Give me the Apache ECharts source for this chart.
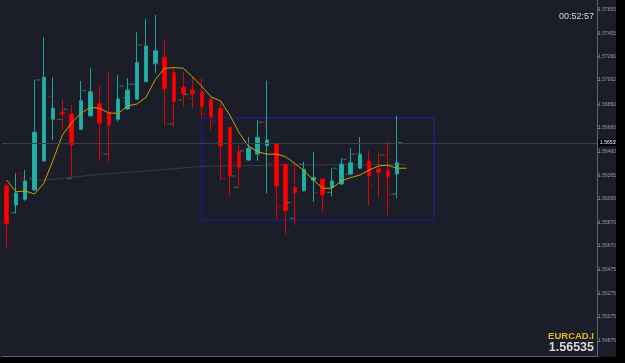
<!DOCTYPE html>
<html>
<head>
<meta charset="utf-8">
<script src="https://cdn.jsdelivr.net/npm/echarts@6.0.0/dist/echarts.min.js"></script>
<style>
  html, body { margin: 0; padding: 0; background: #000; }
  #chart { width: 625px; height: 363px; }
</style>
</head>
<body>
<div id="chart"></div>
<script>
// EURCAD.I candles, oldest first
const opens  = [1.56177, 1.56015, 1.56063, 1.56141, 1.56384, 1.56733, 1.56794, 1.56778, 1.56649, 1.56763, 1.56864,
                1.56783, 1.56733, 1.56820, 1.56901, 1.57048, 1.57199, 1.57253, 1.57124, 1.57001, 1.56979, 1.56962,
                1.56901, 1.56825, 1.56666, 1.56462, 1.56392, 1.56442, 1.56512, 1.56532, 1.56356, 1.56160, 1.56135,
                1.56224, 1.56233, 1.56163, 1.56191, 1.56275, 1.56323, 1.56384, 1.56317, 1.56302, 1.56275];
const highs  = [1.56191, 1.56281, 1.56308, 1.57063, 1.57420, 1.57085, 1.56895, 1.56853, 1.57054, 1.57161, 1.57015,
                1.57127, 1.57102, 1.57079, 1.57462, 1.57574, 1.57607, 1.57404, 1.57172, 1.57132, 1.57096, 1.57077,
                1.56918, 1.56867, 1.56666, 1.56518, 1.56582, 1.56727, 1.57057, 1.56535, 1.56356, 1.56364, 1.56378,
                1.56462, 1.56233, 1.56323, 1.56406, 1.56490, 1.56582, 1.56468, 1.56468, 1.56545, 1.56761];
const lows   = [1.55655, 1.55945, 1.56051, 1.56135, 1.56378, 1.56560, 1.56644, 1.56233, 1.56644, 1.56755, 1.56384,
                1.56378, 1.56713, 1.56811, 1.56895, 1.57046, 1.57119, 1.56677, 1.56671, 1.56839, 1.56830, 1.56742,
                1.56644, 1.56224, 1.56085, 1.56163, 1.56386, 1.56386, 1.56113, 1.55895, 1.55772, 1.55847, 1.56126,
                1.56043, 1.55959, 1.56085, 1.56183, 1.56266, 1.56317, 1.56007, 1.56079, 1.55931, 1.56071];
const closes = [1.55856, 1.56116, 1.56216, 1.56624, 1.57085, 1.56825, 1.56782, 1.56520, 1.56889, 1.56964, 1.56700,
                1.56685, 1.56903, 1.56979, 1.57208, 1.57348, 1.57308, 1.56990, 1.56881, 1.56945, 1.56945, 1.56839,
                1.56755, 1.56509, 1.56261, 1.56331, 1.56490, 1.56582, 1.56560, 1.56174, 1.55967, 1.56118, 1.56314,
                1.56244, 1.56099, 1.56216, 1.56356, 1.56369, 1.56440, 1.56258, 1.56286, 1.56252, 1.56369];

// fast MA (yellow), one value per bar plus the shifted one
const maFast = [1.56224, 1.56126, 1.56132, 1.56107, 1.56197, 1.56392, 1.56602, 1.56705, 1.56783, 1.56834, 1.56825,
                1.56786, 1.56783, 1.56845, 1.56861, 1.56918, 1.57068, 1.57161, 1.57166, 1.57161, 1.57088, 1.57008,
                1.56920, 1.56887, 1.56769, 1.56621, 1.56509, 1.56462, 1.56440, 1.56442, 1.56420, 1.56363, 1.56300,
                1.56224, 1.56155, 1.56155, 1.56216, 1.56244, 1.56266, 1.56308, 1.56342, 1.56348, 1.56323, 1.56323];
// slow MA (grey), read at a few bars
const maSlow = [[3, 1.56220], [4, 1.56224], [10, 1.56271], [15, 1.56300], [21, 1.56338], [30, 1.56350], [43, 1.56354]];

// small open/close ticks: [bar, price, side]
const tealTicks = [[1, 1.55950, -1], [3, 1.57063, 1], [3, 1.56235, -1], [6, 1.56817, 1], [6, 1.56733, -1],
                   [7, 1.56235, -1], [8, 1.56973, 1], [11, 1.56442, -1], [12, 1.57012, 1], [13, 1.57027, 1],
                   [13, 1.56914, -1], [14, 1.57029, -1], [14, 1.57356, 1], [18, 1.56694, -1], [19, 1.56895, -1],
                   [19, 1.56943, 1], [24, 1.56258, 1], [25, 1.56163, -1], [25, 1.56468, 1], [26, 1.56490, 1],
                   [27, 1.56708, 1], [30, 1.56034, 1], [31, 1.55903, -1], [32, 1.56356, -1], [35, 1.56121, -1],
                   [35, 1.56323, 1], [36, 1.56398, 1], [37, 1.56272, -1], [37, 1.56442, 1], [40, 1.56434, 1],
                   [42, 1.56107, -1], [42, 1.56537, 1]];
const redTicks = [[0, 1.55872, -1], [1, 1.56281, 1], [2, 1.56235, -1], [4, 1.57063, -1], [5, 1.56926, -1],
                  [5, 1.56733, 1], [6, 1.56775, -1], [9, 1.56956, 1], [10, 1.56442, 1], [12, 1.56792, -1],
                  [15, 1.57356, -1], [15, 1.57308, 1], [16, 1.57197, 1], [17, 1.56694, 1], [20, 1.56906, -1],
                  [21, 1.56778, 1], [22, 1.56713, 1], [23, 1.56233, 1], [28, 1.56708, -1], [28, 1.56361, 1],
                  [29, 1.56001, 1], [33, 1.56121, 1], [38, 1.56442, -1], [39, 1.56180, 1], [41, 1.56434, -1],
                  [41, 1.56105, 1]];

// price scale
const tickLabels = ['1.57655', '1.57455', '1.57260', '1.57062', '1.56860', '1.56660', '1.56460', '1.56265',
                    '1.56065', '1.55870', '1.55670', '1.55475', '1.55275', '1.55075', '1.54875'];
const priceMin = 1.54749;
const priceMax = 1.57733;

const currentPrice = 1.56535;
const boxFrom = [21, 1.56744];
const boxTo = [46, 1.55889];
const symbolName = 'EURCAD.I';
const clockText = '00:52:57';

const barCount = 64;
const cats = [];
for (let i = 0; i < barCount; i++) cats.push(String(i));

const candles = opens.map((o, i) => [o, closes[i], lows[i], highs[i]]);
const tickValues = tickLabels.map(Number);

function tickData(list) {
  return list.map(t => ({ value: [t[0], t[1]], symbolOffset: [t[2] * 3, 0] }));
}

const chart = echarts.init(document.getElementById('chart'));
chart.setOption({
  animation: false,
  backgroundColor: '#1b1e28',
  grid: { left: 2, right: 28, top: 0, bottom: 7 },
  xAxis: {
    type: 'category',
    data: cats,
    axisLine: { show: true, lineStyle: { color: '#62666e', width: 1 } },
    axisTick: { show: false },
    axisLabel: { show: false },
    splitLine: { show: false }
  },
  yAxis: {
    type: 'value',
    position: 'right',
    min: priceMin,
    max: priceMax,
    scale: true,
    axisLine: { show: true, lineStyle: { color: '#62666e', width: 1 } },
    axisTick: { show: true, length: 2, customValues: tickValues, lineStyle: { color: '#62666e' } },
    axisLabel: {
      show: true,
      customValues: tickValues,
      formatter: v => v.toFixed(5),
      fontSize: 5,
      fontFamily: 'Liberation Sans',
      color: '#9a9ca3',
      margin: 1
    },
    splitLine: { show: false }
  },
  series: [
    {
      type: 'line',
      data: maSlow,
      symbol: 'none',
      lineStyle: { color: '#393c47', width: 1 },
      markLine: {
        silent: true,
        symbol: 'none',
        precision: 5,
        lineStyle: { color: '#3d404b', type: 'solid', width: 1 },
        label: {
          show: true,
          position: 'end',
          distance: 1,
          formatter: currentPrice.toFixed(5),
          fontSize: 5,
          fontFamily: 'Liberation Sans',
          color: '#ffffff',
          backgroundColor: '#000000',
          padding: [1, 2]
        },
        data: [{ yAxis: currentPrice }]
      },
      z: 1
    },
    {
      type: 'candlestick',
      data: candles,
      barWidth: 4,
      itemStyle: {
        color: '#20b2a8',
        color0: '#ff0000',
        borderColor: '#1ea59c',
        borderColor0: '#e00000',
        borderWidth: 1
      },
      markArea: {
        silent: true,
        itemStyle: { color: 'rgba(0,0,0,0)', borderColor: '#1e1ea8', borderWidth: 1 },
        data: [[{ xAxis: boxFrom[0], yAxis: boxFrom[1] }, { xAxis: boxTo[0], yAxis: boxTo[1] }]]
      },
      z: 2
    },
    {
      type: 'scatter',
      data: tickData(tealTicks),
      symbol: 'rect',
      symbolSize: [4, 1],
      itemStyle: { color: '#1d9a93' },
      silent: true,
      z: 3
    },
    {
      type: 'scatter',
      data: tickData(redTicks),
      symbol: 'rect',
      symbolSize: [4, 1],
      itemStyle: { color: '#c80000' },
      silent: true,
      z: 3
    },
    {
      type: 'line',
      data: maFast,
      symbol: 'none',
      lineStyle: { color: '#c9a300', width: 1 },
      z: 4
    }
  ],
  graphic: [
    { type: 'rect', z: 100, shape: { x: 616, y: 0, width: 9, height: 363 }, style: { fill: '#000' } },
    { type: 'rect', z: 100, shape: { x: 0, y: 357, width: 625, height: 6 }, style: { fill: '#000' } },
    {
      type: 'text', z: 100, right: 31, top: 12,
      style: { text: clockText, fill: '#d6d6d6', font: '9px "Liberation Sans", Arial, sans-serif' }
    },
    {
      type: 'text', z: 100, right: 31, top: 331,
      style: { text: symbolName, fill: '#e8b624', font: 'bold 9.5px "Liberation Sans", Arial, sans-serif' }
    },
    {
      type: 'text', z: 100, right: 31, top: 341,
      style: { text: currentPrice.toFixed(5), fill: '#d8d8d8', font: 'bold 12.5px "Liberation Sans", Arial, sans-serif' }
    }
  ]
});
</script>
</body>
</html>
